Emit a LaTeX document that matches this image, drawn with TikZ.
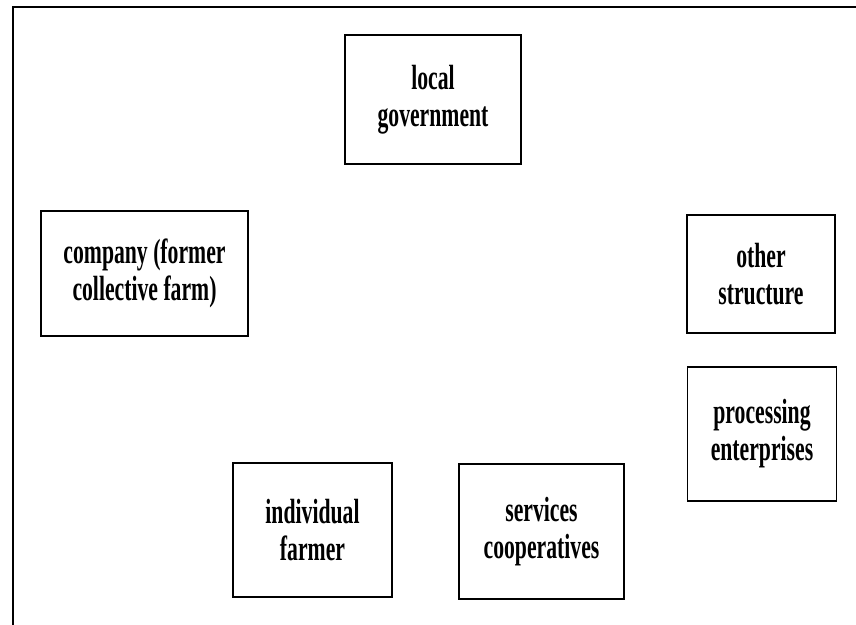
\documentclass[tikz,border=0pt]{standalone}
\usepackage{fontspec}
\setmainfont{Liberation Serif}
\newfontfamily\labelfont[FakeStretch=0.62]{Liberation Serif Bold}
\begin{document}
\begin{tikzpicture}[x=1pt,y=-1pt,
  actor/.style={draw, line width=1.4pt, rectangle, align=center,
    font=\labelfont\fontsize{35}{37}\selectfont, inner sep=0pt}]
\useasboundingbox (0,0) rectangle (856,624);
% outer frame (runs off the page at right and bottom)
\coordinate (ftl) at (13,7);
\coordinate (fbl) at (13,630);
\coordinate (ftr) at (862,7);
\draw[line width=2.4pt] (fbl) -- (ftl) -- (ftr);
% actors
\node[actor, minimum width=176pt, minimum height=129pt] (gov) at (433,99.5) {local\\government};
\node[actor, minimum width=207pt, minimum height=125pt] (comp) at (144.5,273.5) {company (former\\collective farm)};
\node[actor, minimum width=148pt, minimum height=118pt] (other) at (761,274) {other\\structure};
\node[actor, minimum width=149pt, minimum height=134pt] (proc) at (762,434) {processing\\enterprises};
\node[actor, minimum width=159pt, minimum height=134pt] (farmer) at (312.5,530) {individual\\farmer};
\node[actor, minimum width=165pt, minimum height=135pt] (serv) at (541.5,531.5) {services\\cooperatives};
\end{tikzpicture}
\end{document}
